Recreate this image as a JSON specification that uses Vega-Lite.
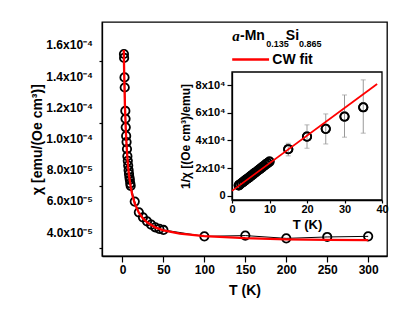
{
  "$schema": "https://vega.github.io/schema/vega-lite/v6.json",
  "width": 285,
  "height": 234,
  "autosize": {"type": "none"},
  "padding": {"left": 102, "top": 22, "right": 28, "bottom": 67},
  "background": "white",
  "config": {
    "font": "Liberation Sans",
    "view": {"stroke": "black", "strokeWidth": 1.3},
    "axis": {
      "labelFont": "Liberation Sans", "labelFontWeight": "bold", "labelColor": "black",
      "titleFont": "Liberation Sans", "titleFontWeight": "bold", "titleColor": "black",
      "domainColor": "black", "tickColor": "black", "grid": false,
      "labelOverlap": false, "labelFlush": false, "labelBound": false,
      "domainWidth": 1.3, "tickWidth": 1.2
    }
  },
  "datasets": {
    "main": [
      {"T": 1.8, "chi_e5": 15.45}, {"T": 2.0, "chi_e5": 15.2}, {"T": 2.5, "chi_e5": 13.95},
      {"T": 2.75, "chi_e5": 13.3}, {"T": 3.5, "chi_e5": 11.8}, {"T": 3.75, "chi_e5": 11.3},
      {"T": 4.0, "chi_e5": 10.75}, {"T": 4.5, "chi_e5": 10.2}, {"T": 5.0, "chi_e5": 9.8},
      {"T": 5.5, "chi_e5": 9.36}, {"T": 6.0, "chi_e5": 8.9}, {"T": 6.5, "chi_e5": 8.6},
      {"T": 7.0, "chi_e5": 8.3}, {"T": 7.5, "chi_e5": 8.0}, {"T": 8.0, "chi_e5": 7.76},
      {"T": 8.5, "chi_e5": 7.55}, {"T": 9.0, "chi_e5": 7.38}, {"T": 9.5, "chi_e5": 7.16},
      {"T": 10, "chi_e5": 7.0}, {"T": 15, "chi_e5": 5.99}, {"T": 20, "chi_e5": 5.3},
      {"T": 25, "chi_e5": 4.98}, {"T": 30, "chi_e5": 4.72}, {"T": 35, "chi_e5": 4.51},
      {"T": 40, "chi_e5": 4.34}, {"T": 45, "chi_e5": 4.24}, {"T": 50, "chi_e5": 4.17},
      {"T": 100, "chi_e5": 3.76}, {"T": 150, "chi_e5": 3.81}, {"T": 200, "chi_e5": 3.63},
      {"T": 250, "chi_e5": 3.72}, {"T": 300, "chi_e5": 3.76}
    ],
    "fit": [
      {"T": 1.6, "chi_e5": 15.71}, {"T": 2, "chi_e5": 14.43}, {"T": 2.5, "chi_e5": 13.16},
      {"T": 3, "chi_e5": 12.15}, {"T": 4, "chi_e5": 10.65}, {"T": 5, "chi_e5": 9.58},
      {"T": 6, "chi_e5": 8.78}, {"T": 7, "chi_e5": 8.16}, {"T": 8, "chi_e5": 7.67},
      {"T": 10, "chi_e5": 6.94}, {"T": 12, "chi_e5": 6.41}, {"T": 15, "chi_e5": 5.86},
      {"T": 20, "chi_e5": 5.27}, {"T": 25, "chi_e5": 4.91}, {"T": 30, "chi_e5": 4.66},
      {"T": 40, "chi_e5": 4.33}, {"T": 50, "chi_e5": 4.14}, {"T": 70, "chi_e5": 3.93},
      {"T": 100, "chi_e5": 3.78}, {"T": 150, "chi_e5": 3.64}, {"T": 200, "chi_e5": 3.57},
      {"T": 250, "chi_e5": 3.54}, {"T": 300, "chi_e5": 3.52}
    ],
    "ylab": [
      {"chi_e5": 4, "lab": "4.0x10⁻⁵"}, {"chi_e5": 6, "lab": "6.0x10⁻⁵"},
      {"chi_e5": 8, "lab": "8.0x10⁻⁵"}, {"chi_e5": 10, "lab": "1.0x10⁻⁴"},
      {"chi_e5": 12, "lab": "1.2x10⁻⁴"}, {"chi_e5": 14, "lab": "1.4x10⁻⁴"},
      {"chi_e5": 16, "lab": "1.6x10⁻⁴"}
    ],
    "legendline": [{"T": 134, "chi_e5": 15.09}, {"T": 179, "chi_e5": 15.09}],
    "legendtext": [
      {"T": 134, "chi_e5": 16.63, "txt": "a", "kind": "a"},
      {"T": 143.5, "chi_e5": 16.63, "txt": "-Mn", "kind": "big"},
      {"T": 175.5, "chi_e5": 16.12, "txt": "0.135", "kind": "sub"},
      {"T": 199.5, "chi_e5": 16.63, "txt": "Si", "kind": "big"},
      {"T": 215.5, "chi_e5": 16.12, "txt": "0.865", "kind": "sub"},
      {"T": 183, "chi_e5": 15.09, "txt": "CW fit", "kind": "big"}
    ],
    "inv": [
      {"T": 1.8, "v": 7600}, {"T": 2.0, "v": 8000}, {"T": 2.5, "v": 9100}, {"T": 3.0, "v": 10100},
      {"T": 3.5, "v": 11200}, {"T": 4.0, "v": 12200}, {"T": 4.5, "v": 13200}, {"T": 5.0, "v": 14300},
      {"T": 5.5, "v": 15300}, {"T": 6.0, "v": 16400}, {"T": 6.5, "v": 17400}, {"T": 7.0, "v": 18500},
      {"T": 7.5, "v": 19500}, {"T": 8.0, "v": 20600}, {"T": 8.5, "v": 21600}, {"T": 9.0, "v": 22700},
      {"T": 9.5, "v": 23700}, {"T": 10, "v": 24800},
      {"T": 15, "v": 33700, "lo": 28900, "hi": 38000},
      {"T": 20, "v": 42800, "lo": 34400, "hi": 51300},
      {"T": 25, "v": 48400, "lo": 37500, "hi": 59200},
      {"T": 30, "v": 57300, "lo": 42400, "hi": 72900},
      {"T": 35, "v": 64000, "lo": 45300, "hi": 83800}
    ],
    "invfit": [{"T": 0, "v": 3600}, {"T": 38.7, "v": 80900}],
    "frame": [{"x1": 0, "x2": 40, "y1": -3000, "y2": 89500}]
  },
  "layer": [
    {
      "layer": [
        {
          "data": {"name": "main"},
          "mark": {"type": "line", "color": "black", "strokeWidth": 1},
          "encoding": {
            "x": {
              "field": "T", "type": "quantitative", "title": "T (K)",
              "scale": {"domain": [-25, 323], "nice": false, "zero": false},
              "axis": {
                "orient": "bottom", "title": "T (K)", "titleFontSize": 14, "titlePadding": 8,
                "values": [0, 25, 50, 75, 100, 125, 150, 175, 200, 225, 250, 275, 300],
                "labelExpr": "datum.value % 50 == 0 ? datum.label : ''",
                "tickSize": {"condition": {"test": "datum.value % 50 == 0", "value": 6}, "value": 3},
                "labelFontSize": 12, "labelPadding": 2
              }
            },
            "y": {
              "field": "chi_e5", "type": "quantitative", "title": "χ [emu/(Oe cm³)]",
              "scale": {"domain": [2.5, 17.5], "nice": false, "zero": false},
              "axis": {
                "orient": "left", "title": "χ [emu/(Oe cm³)]", "titleFontSize": 14, "titlePadding": 54,
                "values": [3, 4, 5, 6, 7, 8, 9, 10, 11, 12, 13, 14, 15, 16, 17],
                "labels": false,
                "tickSize": {"condition": {"test": "datum.value % 2 == 0", "value": 6}, "value": 3}
              }
            }
          }
        },
        {
          "data": {"name": "ylab"},
          "mark": {"type": "text", "align": "right", "baseline": "middle", "dx": -9, "font": "Liberation Sans", "fontWeight": "bold", "fontSize": 12, "color": "black"},
          "encoding": {
            "x": {"datum": -25, "type": "quantitative"},
            "y": {"field": "chi_e5", "type": "quantitative", "title": "χ [emu/(Oe cm³)]"},
            "text": {"field": "lab"}
          }
        },
        {
          "data": {"name": "main"},
          "mark": {"type": "point", "shape": "circle", "filled": false, "stroke": "black", "strokeWidth": 1.8, "size": 70, "opacity": 1},
          "encoding": {
            "x": {"field": "T", "type": "quantitative", "title": "T (K)"},
            "y": {"field": "chi_e5", "type": "quantitative", "title": "χ [emu/(Oe cm³)]"}
          }
        },
        {
          "data": {"name": "fit"},
          "mark": {"type": "line", "strokeWidth": 2.3, "color": "#ff0000"},
          "encoding": {
            "x": {"field": "T", "type": "quantitative", "title": "T (K)"},
            "y": {"field": "chi_e5", "type": "quantitative", "title": "χ [emu/(Oe cm³)]"}
          }
        },
        {
          "data": {"name": "legendline"},
          "mark": {"type": "line", "strokeWidth": 2.5, "color": "#ff0000"},
          "encoding": {
            "x": {"field": "T", "type": "quantitative", "title": "T (K)"},
            "y": {"field": "chi_e5", "type": "quantitative", "title": "χ [emu/(Oe cm³)]"}
          }
        },
        {
          "data": {"name": "legendtext"},
          "transform": [{"filter": "datum.kind == 'big'"}],
          "mark": {"type": "text", "align": "left", "baseline": "middle", "font": "Liberation Sans", "fontWeight": "bold", "fontSize": 14, "color": "black"},
          "encoding": {
            "x": {"field": "T", "type": "quantitative", "title": "T (K)"},
            "y": {"field": "chi_e5", "type": "quantitative", "title": "χ [emu/(Oe cm³)]"},
            "text": {"field": "txt"}
          }
        },
        {
          "data": {"name": "legendtext"},
          "transform": [{"filter": "datum.kind == 'sub'"}],
          "mark": {"type": "text", "align": "left", "baseline": "middle", "font": "Liberation Sans", "fontWeight": "bold", "fontSize": 9, "color": "black"},
          "encoding": {
            "x": {"field": "T", "type": "quantitative", "title": "T (K)"},
            "y": {"field": "chi_e5", "type": "quantitative", "title": "χ [emu/(Oe cm³)]"},
            "text": {"field": "txt"}
          }
        },
        {
          "data": {"name": "legendtext"},
          "transform": [{"filter": "datum.kind == 'a'"}],
          "mark": {"type": "text", "align": "left", "baseline": "middle", "font": "Liberation Serif", "fontWeight": "bold", "fontStyle": "italic", "fontSize": 15, "color": "black"},
          "encoding": {
            "x": {"field": "T", "type": "quantitative", "title": "T (K)"},
            "y": {"field": "chi_e5", "type": "quantitative", "title": "χ [emu/(Oe cm³)]"},
            "text": {"field": "txt"}
          }
        }
      ]
    },
    {
      "layer": [
        {
          "data": {"name": "inv"},
          "mark": {"type": "point", "shape": "circle", "filled": false, "stroke": "black", "strokeWidth": 1.8, "size": 70, "opacity": 1},
          "encoding": {
            "x": {
              "field": "T", "type": "quantitative", "title": "T (K)",
              "scale": {"domain": [0, 40], "range": [130, 280], "nice": false, "zero": false},
              "axis": {
                "orient": "bottom", "offset": -56, "title": "T (K)", "titleFontSize": 13, "titlePadding": 4,
                "values": [0, 2.5, 5, 7.5, 10, 12.5, 15, 17.5, 20, 22.5, 25, 27.5, 30, 32.5, 35, 37.5, 40],
                "labelExpr": "datum.value % 5 == 0 ? datum.label : ''",
                "tickSize": {"condition": {"test": "datum.value % 5 == 0", "value": 3}, "value": 2},
                "labelFontSize": 11, "labelPadding": 0
              }
            },
            "y": {
              "field": "v", "type": "quantitative", "title": "1/χ [(Oe cm³)/emu]",
              "scale": {"domain": [-3000, 89500], "range": [178, 50], "nice": false, "zero": false},
              "axis": {
                "orient": "left", "offset": -130, "title": "1/χ [(Oe cm³)/emu]", "titleFontSize": 12, "titlePadding": 3,
                "values": [0, 10000, 20000, 30000, 40000, 50000, 60000, 70000, 80000],
                "labelExpr": "datum.value == 0 ? '0' : (datum.value % 20000 == 0 ? format(datum.value/10000, 'd') + 'x10⁴' : '')",
                "tickSize": {"condition": {"test": "datum.value % 20000 == 0", "value": 5}, "value": 3},
                "labelFontSize": 11, "labelPadding": 2
              }
            }
          }
        },
        {
          "data": {"name": "inv"},
          "transform": [{"filter": "isValid(datum.lo)"}],
          "mark": {"type": "errorbar", "color": "#999999", "ticks": {"size": 5, "color": "#999999"}},
          "encoding": {
            "x": {"field": "T", "type": "quantitative", "title": "T (K)"},
            "y": {"field": "lo", "type": "quantitative", "title": "1/χ [(Oe cm³)/emu]"},
            "y2": {"field": "hi"}
          }
        },
        {
          "data": {"name": "frame"},
          "mark": {"type": "rect", "fill": "transparent", "stroke": "black", "strokeWidth": 1.3},
          "encoding": {
            "x": {"field": "x1", "type": "quantitative", "title": "T (K)"},
            "x2": {"field": "x2"},
            "y": {"field": "y1", "type": "quantitative", "title": "1/χ [(Oe cm³)/emu]"},
            "y2": {"field": "y2"}
          }
        },
        {
          "data": {"name": "inv"},
          "mark": {"type": "point", "shape": "circle", "filled": false, "stroke": "black", "strokeWidth": 1.8, "size": 70, "opacity": 1},
          "encoding": {
            "x": {"field": "T", "type": "quantitative", "title": "T (K)"},
            "y": {"field": "v", "type": "quantitative", "title": "1/χ [(Oe cm³)/emu]"}
          }
        },
        {
          "data": {"name": "invfit"},
          "mark": {"type": "line", "color": "#ff0000", "strokeWidth": 1.8},
          "encoding": {
            "x": {"field": "T", "type": "quantitative", "title": "T (K)"},
            "y": {"field": "v", "type": "quantitative", "title": "1/χ [(Oe cm³)/emu]"}
          }
        }
      ]
    }
  ],
  "resolve": {"scale": {"x": "independent", "y": "independent"}}
}
